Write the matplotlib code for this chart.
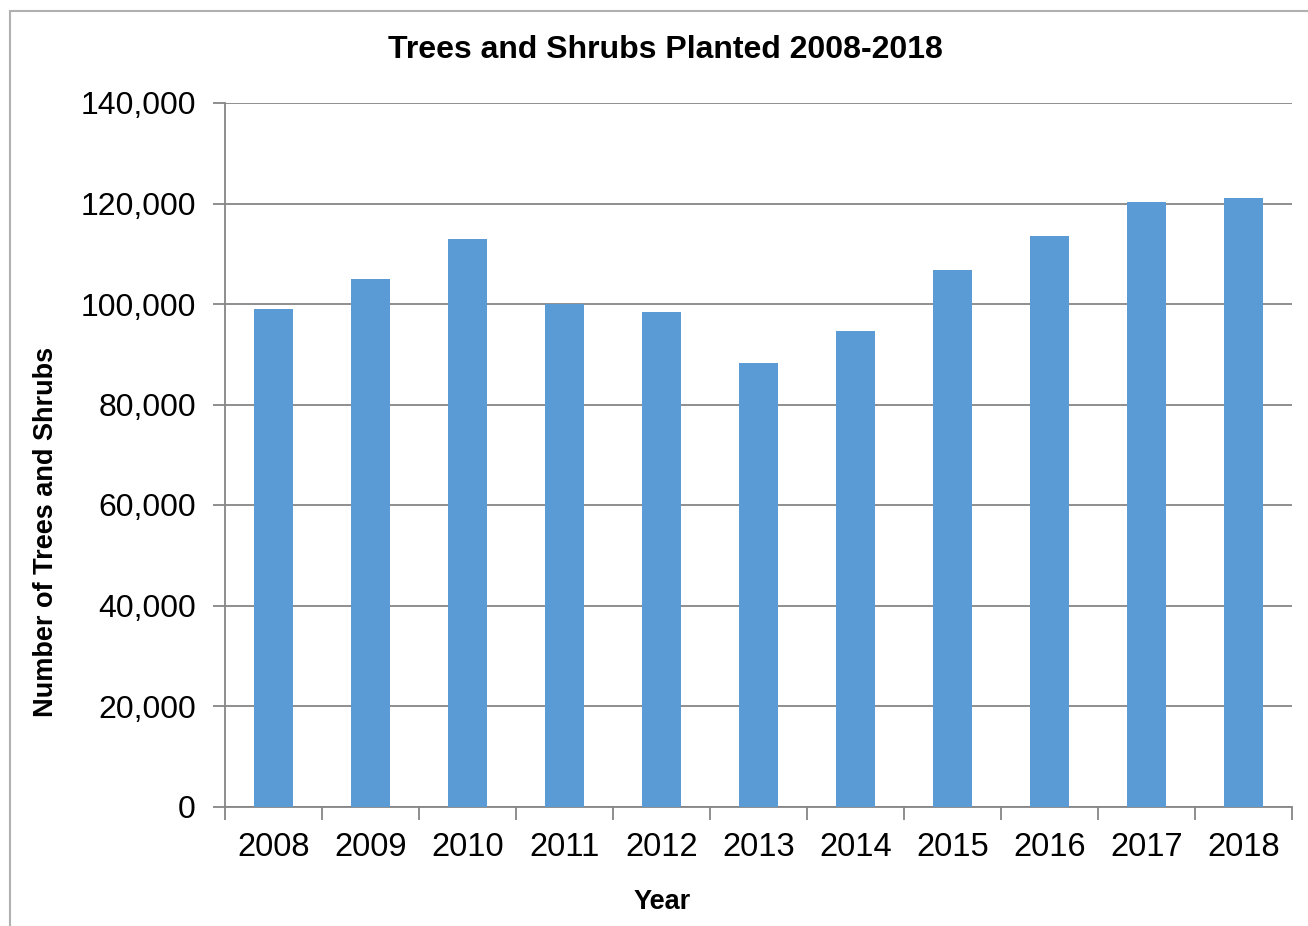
import matplotlib.pyplot as plt
from matplotlib.ticker import FuncFormatter, MultipleLocator, FixedLocator
from matplotlib.patches import Rectangle

plt.rcParams['font.family'] = ['Liberation Sans', 'DejaVu Sans']

years = ['2008', '2009', '2010', '2011', '2012', '2013', '2014', '2015', '2016', '2017', '2018']
planted = [99000, 105000, 113000, 100000, 98400, 88200, 94600, 106700, 113500, 120300, 121100]

fig = plt.figure(figsize=(13.08, 9.26), dpi=100)
ax = fig.add_axes([225 / 1308, 1 - 806.5 / 926, (1292 - 225) / 1308, (806.5 - 103) / 926])

# light frame round the chart (cut off right and bottom, as in the source)
fig.patches.append(Rectangle((10 / 1308, -0.1), 1.2, 1 - 11 / 926 + 0.1,
                             transform=fig.transFigure, fill=False,
                             edgecolor='#b0b0b0', linewidth=1.5))

x = range(len(years))
ax.bar(x, planted, width=0.4, color='#5b9bd5', zorder=3)

ax.set_xlim(-0.5, len(years) - 0.5)
ax.set_ylim(0, 140000)
ax.yaxis.set_major_locator(MultipleLocator(20000))
ax.yaxis.set_major_formatter(FuncFormatter(lambda v, p: f'{int(v):,}'))
ax.grid(axis='y', color='#868686', linewidth=1.3, zorder=0)

ax.set_xticks(list(x))
ax.set_xticklabels(years)
ax.tick_params(axis='x', length=0, labelsize=23.5, pad=18)
ax.xaxis.set_minor_locator(FixedLocator([i - 0.5 for i in range(len(years) + 1)]))
ax.tick_params(axis='x', which='minor', length=9, width=1.3, color='#868686')
ax.tick_params(axis='y', length=9, width=1.3, color='#868686', labelsize=23, pad=12)

for side in ['top', 'right']:
    ax.spines[side].set_visible(False)
for side in ['left', 'bottom']:
    ax.spines[side].set_color('#868686')
    ax.spines[side].set_linewidth(1.3)

fig.text(665 / 1308, 1 - 50 / 926, 'Trees and Shrubs Planted 2008-2018',
         ha='center', va='center', fontsize=23, fontweight='bold')
fig.text(662 / 1308, 1 - 902 / 926, 'Year', ha='center', va='center',
         fontsize=19.5, fontweight='bold')
fig.text(46 / 1308, 1 - 532 / 926, 'Number of Trees and Shrubs', ha='center',
         va='center', rotation=90, fontsize=19.5, fontweight='bold')

fig.savefig('out.png', dpi=100)
